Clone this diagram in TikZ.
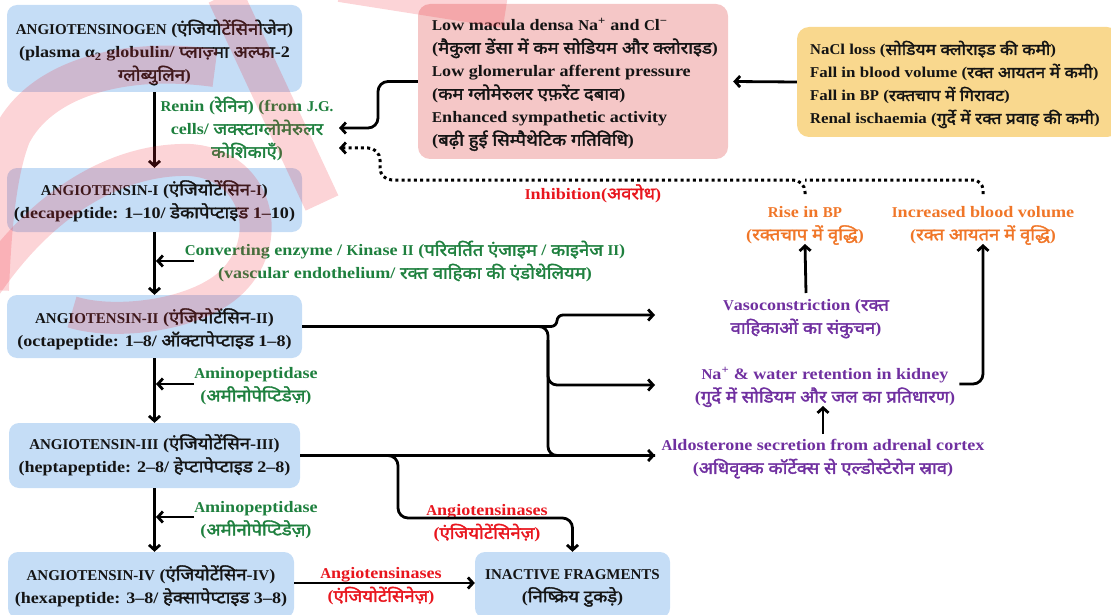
\documentclass[tikz,border=0pt]{standalone}
\usepackage{fontspec}
\setmainfont{Liberation Serif}[FakeStretch=1.13]
\newfontfamily\capsfont{Liberation Serif}
\newfontfamily\devfont[Script=Devanagari, Scale=1.05, FakeStretch=1.1, BoldFont=*, BoldFeatures={FakeBold=2}]{Noto Sans}
\newcommand{\D}[1]{{\devfont #1}}
\newcommand{\C}[1]{{\capsfont\fontsize{15}{23}\selectfont #1}}
\usetikzlibrary{arrows.meta}
\definecolor{boxblue}{RGB}{197,221,246}
\definecolor{boxpink}{RGB}{245,199,199}
\definecolor{boxyellow}{RGB}{249,216,142}
\definecolor{enzgreen}{RGB}{30,128,62}
\definecolor{inhred}{RGB}{232,22,30}
\definecolor{efforange}{RGB}{240,118,40}
\definecolor{effpurple}{RGB}{112,48,160}
\definecolor{txtdark}{RGB}{20,20,20}
\definecolor{wmred}{RGB}{240,40,55}
\begin{document}
\lineskiplimit=-50pt
\begin{tikzpicture}[x=1pt,y=-1pt,
  font=\bfseries\fontsize{16}{23}\selectfont,
  blk/.style={rounded corners=10pt, fill=boxblue, inner sep=0pt},
  btxt/.style={align=center, inner sep=0pt, text=txtdark},
  ltxt/.style={align=left, inner sep=0pt, text=txtdark, anchor=west},
  lbl/.style={align=center, inner sep=0pt},
  conn/.style={line width=2.8pt, line join=round},
  arr/.style={conn, -{Straight Barb[length=5pt,width=11pt,line width=2.8pt]}},
  dotline/.style={line width=3pt, dash pattern=on 3pt off 3.2pt},
  dotarr/.style={dotline, -{Straight Barb[length=5pt,width=11pt,line width=2.8pt]}},
  wmark/.style={draw=wmred, draw opacity=0.2, line cap=butt}
]
\useasboundingbox (0,0) rectangle (1111,615);
\clip (0,0) rectangle (1111,615);

% ---------- boxes ----------
\node[blk, minimum width=295pt, minimum height=87pt] (ang0) at (154.5,48.5) {};
\node[blk, minimum width=295pt, minimum height=64pt] (ang1) at (154.5,200) {};
\node[blk, minimum width=295pt, minimum height=63pt] (ang2) at (154.5,326.5) {};
\node[blk, minimum width=291pt, minimum height=65pt] (ang3) at (154.5,455.5) {};
\node[blk, minimum width=286pt, minimum height=66pt] (ang4) at (151,585) {};
\node[blk, minimum width=195pt, minimum height=66pt] (inact) at (572.5,585) {};
\node[rounded corners=12pt, fill=boxpink, minimum width=310pt, minimum height=155pt] (pinkbox) at (573,81.5) {};
\node[rounded corners=12pt, fill=boxyellow, minimum width=322pt, minimum height=110pt] (yellowbox) at (958,82) {};

\node[btxt] (ang0t) at (154.5,52.5)
  {\C{ANGIOTENSINOGEN} (\D{एंजियोटेंसिनोजेन})\\(plasma α\textsubscript{2} globulin/ \D{प्लाज़्मा अल्फा}-2\\\D{ग्लोब्युलिन})};
\node[btxt] (ang1t) at (154.5,201)
  {\C{ANGIOTENSIN-I} (\D{एंजियोटेंसिन}-\C{I})\\(decapeptide: 1–10/ \D{डेकापेप्टाइड} 1–10)};
\node[btxt] (ang2t) at (154.5,329)
  {\C{ANGIOTENSIN-II} (\D{एंजियोटेंसिन}-\C{II})\\(octapeptide: 1–8/ \D{ऑक्टापेप्टाइड} 1–8)};
\node[btxt] (ang3t) at (154.5,455)
  {\C{ANGIOTENSIN-III} (\D{एंजियोटेंसिन}-\C{III})\\(heptapeptide: 2–8/ \D{हेप्टापेप्टाइड} 2–8)};
\node[btxt] (ang4t) at (151,586)
  {\C{ANGIOTENSIN-IV} (\D{एंजियोटेंसिन}-\C{IV})\\(hexapeptide: 3–8/ \D{हेक्सापेप्टाइड} 3–8)};
\node[btxt] (inactt) at (572.5,588)
  {\C{INACTIVE FRAGMENTS}\\(\D{निष्क्रिय टुकड़े})};

\node[ltxt] (pinkt) at (432,84.5)
  {\C{L}ow macula densa \C{N}a\textsuperscript{+} and \C{C}l\textsuperscript{−}\\
   (\D{मैकुला डेंसा में कम सोडियम और क्लोराइड})\\
   \C{L}ow glomerular afferent pressure\\
   (\D{कम ग्लोमेरुलर एफ़रेंट दबाव})\\
   \C{E}nhanced sympathetic activity\\
   (\D{बढ़ी हुई सिम्पैथेटिक गतिविधि})};

\node[ltxt, font=\bfseries\fontsize{15}{23}\selectfont] (yellowt) at (810,84.5)
  {\C{N}a\C{C}l loss (\D{सोडियम क्लोराइड की कमी})\\
   \C{F}all in blood volume (\D{रक्त आयतन में कमी})\\
   \C{F}all in \C{BP} (\D{रक्तचाप में गिरावट})\\
   \C{R}enal ischaemia (\D{गुर्दे में रक्त प्रवाह की कमी})};

% ---------- labels ----------
\node[lbl, text=enzgreen] (renin) at (247,129)
  {\C{R}enin (\D{रेनिन}) (from \C{J.G.}\\cells/ \D{जक्स्टाग्लोमेरुलर}\\\D{कोशिकाएँ})};
\node[lbl, text=enzgreen] (conv) at (405,261.5)
  {\C{C}onverting enzyme / \C{K}inase \C{II} (\D{परिवर्तित एंजाइम} / \D{काइनेज} \C{II})\\(vascular endothelium/ \D{रक्त वाहिका की एंडोथेलियम})};
\node[lbl, text=enzgreen] (amino1) at (256,386)
  {\C{A}minopeptidase\\(\D{अमीनोपेप्टिडेज़})};
\node[lbl, text=enzgreen] (amino2) at (256,520)
  {\C{A}minopeptidase\\(\D{अमीनोपेप्टिडेज़})};
\node[lbl, text=inhred] (ase1) at (487,523.5)
  {\C{A}ngiotensinases\\(\D{एंजियोटेंसिनेज़})};
\node[lbl, text=inhred] (ase2) at (381,586.5)
  {\C{A}ngiotensinases\\(\D{एंजियोटेंसिनेज़})};
\node[lbl, text=inhred] (inhib) at (593,193.5) {\C{I}nhibition(\D{अवरोध})};
\node[lbl, text=efforange] (rise) at (805,225.5)
  {\C{R}ise in \C{BP}\\(\D{रक्तचाप में वृद्धि})};
\node[lbl, text=efforange] (incvol) at (983,225.5)
  {\C{I}ncreased blood volume\\(\D{रक्त आयतन में वृद्धि})};
\node[lbl, text=effpurple] (vaso) at (806,319)
  {\C{V}asoconstriction (\D{रक्त}\\\D{वाहिकाओं का संकुचन})};
\node[lbl, text=effpurple] (naw) at (825,387)
  {\C{N}a\textsuperscript{+} \& water retention in kidney\\(\D{गुर्दे में सोडियम और जल का प्रतिधारण})};
\node[lbl, text=effpurple] (aldo) at (823,459)
  {\C{A}ldosterone secretion from adrenal cortex\\(\D{अधिवृक्क कॉर्टेक्स से एल्डोस्टेरोन स्राव})};

% ---------- coordinates ----------
\coordinate (c1) at (194,261);
\coordinate (c2) at (194,384);
\coordinate (c3) at (194,517);
\coordinate (t1) at (655,315);
\coordinate (t2) at (655,385);
\coordinate (t3) at (655,455.5);
\coordinate (rin1) at (339,128);
\coordinate (rin2) at (339,148);
\coordinate (d1) at (805,194);
\coordinate (d2) at (983,194);

% ---------- main chain ----------
\draw[arr] (ang0.south) -- (ang1.north);
\draw[arr] (ang1.south) -- (ang2.north);
\draw[arr] (ang2.south) -- (ang3.north);
\draw[arr] (ang3.south) -- (ang3.south |- ang4.north);
\draw[arr] (c1) -- ([xshift=1.5pt]c1 -| ang1.south);
\draw[arr] (c2) -- ([xshift=1.5pt]c2 -| ang2.south);
\draw[arr] (c3) -- ([xshift=1.5pt]c3 -| ang3.south);
\draw[arr] (ang4.east |- 0,583) -- (inact.west |- 0,583);

% ---------- angiotensin II / III effects ----------
\draw[arr, rounded corners=6pt] (ang2.east) -- (557,326.5) -- (557,315) -- (t1);
\draw[conn, rounded corners=9pt] (ang2.east) -- (548,326.5) -- (548,455.5) -- (t3);
\draw[arr, rounded corners=9pt] (548,340) -- (548,385) -- (t2);
\draw[arr] (ang3.east) -- (t3);
\draw[arr, rounded corners=10pt] (390,455.5) -- (398,455.5) -- (398,518) -- (572.5,518) -- (inact.north);

% ---------- stimuli ----------
\draw[arr] (yellowbox.west) -- ([xshift=5pt]pinkbox.east);
\draw[arr, rounded corners=10pt] (pinkbox.west) -- (378,81.5) -- (378,128) -- (rin1);
\draw[dotarr, rounded corners=12pt] (d1) -- (805,180) -- (380,180) -- (380,148) -- (rin2);
\draw[dotline, rounded corners=10pt] (d2) -- (983,180) -- (805,180);

% ---------- feedback ----------
\draw[arr] (vaso.north |- 0,293) -- (rise.south |- 0,244);
\draw[arr] (aldo.north |- 0,434) -- (aldo.north |- 0,406);
\draw[arr, rounded corners=10pt] ([xshift=4pt]naw.east |- 0,384) -- (983,384) -- (incvol.south |- 0,244);

% ---------- watermark ----------
\path[wmark, line width=38pt] (215,68) .. controls (120,55) and (40,80) .. (12,135) .. controls (-4,175) and (-8,240) .. (-10,290);
\path[wmark, line width=32pt] (-22,298) .. controls (40,200) and (120,158) .. (190,160) .. controls (262,165) and (278,250) .. (222,290) .. controls (182,318) and (110,324) .. (72,312);
\path[wmark, line width=36pt] (225,-5) -- (322,203);
\path[wmark, line width=28pt] (340,-12) -- (505,14);
\end{tikzpicture}
\end{document}
